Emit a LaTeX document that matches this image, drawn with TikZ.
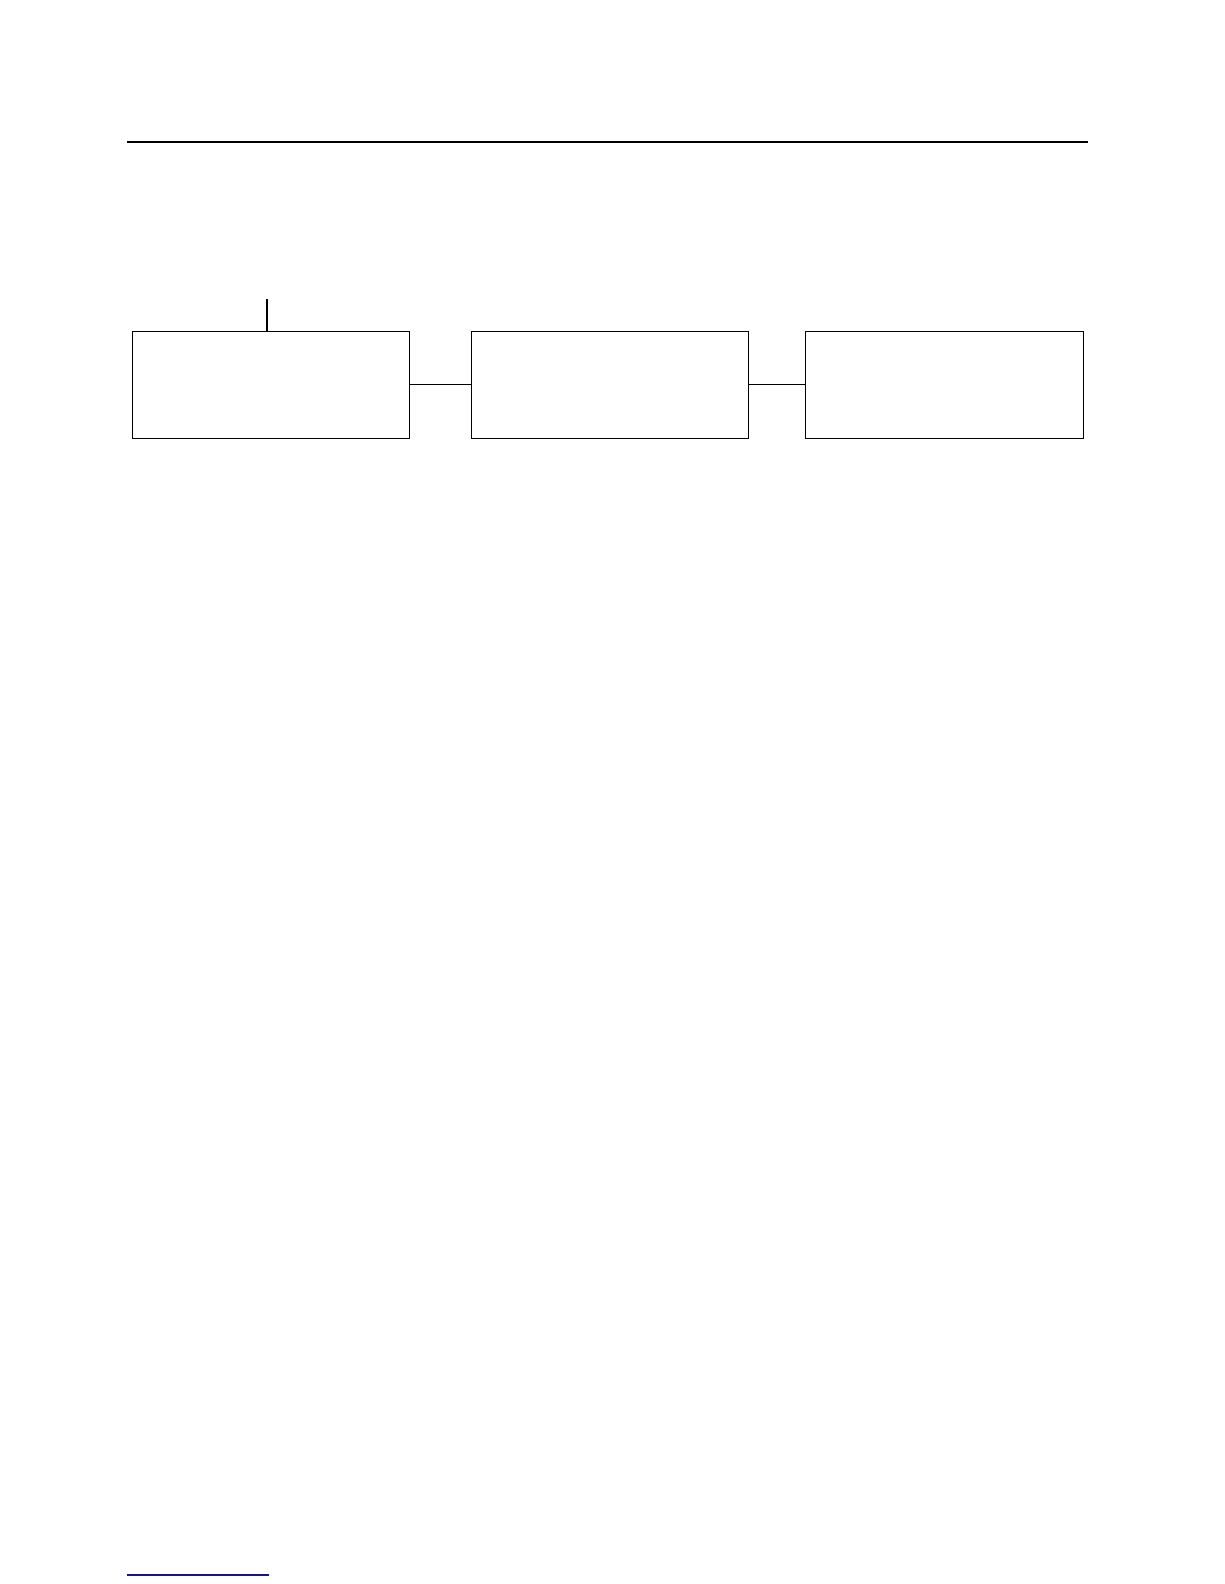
\documentclass[tikz,border=0pt]{standalone}
\usetikzlibrary{positioning}

\begin{document}
\begin{tikzpicture}[
  x=1pt, y=-1pt,
  box/.style={draw, line width=1.2pt, minimum width=277pt, minimum height=107pt, inner sep=0pt},
  link/.style={line width=1.2pt},
  rule/.style={line width=2.2pt}
]

% --- page frame
\useasboundingbox (0,0) rectangle (1224,1584);

% --- x/y locations of the three boxes
\def\yBox{384.7}
\def\xA{270.8}
\def\xB{609.8}
\def\xC{944.3}

% --- Header rule
\coordinate (ruleL) at (126.7,142);
\coordinate (ruleR) at (1087.7,142);
\draw[rule] (ruleL) -- (ruleR);

% --- The three boxes
\node[box] (first)  at (\xA,\yBox) {};
\node[box] (second) at (\xB,\yBox) {};
\node[box, minimum width=278pt] (third) at (\xC,\yBox) {};

% --- Stub above the first box
\coordinate (stub) at (267,299);
\draw[line width=2pt] (stub) -- (stub |- first.north);

% --- Links between boxes
\draw[link] (first.east) -- (second.west);
\draw[link] (second.east) -- (third.west);

% --- Footnote rule
\coordinate (footL) at (126.7,1575);
\coordinate (footR) at (269,1575);
\draw[line width=1.2pt, color={rgb,255:red,20;green,20;blue,140}] (footL) -- (footR);

\end{tikzpicture}
\end{document}
